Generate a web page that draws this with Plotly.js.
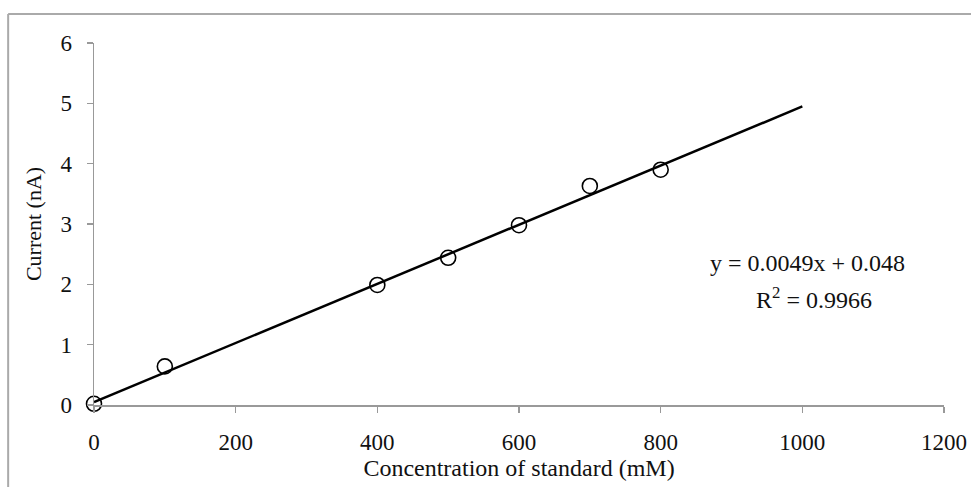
<!DOCTYPE html>
<html>
<head>
<meta charset="utf-8">
<script src="https://cdn.plot.ly/plotly-3.0.1.min.js"></script>
<style>html,body{margin:0;padding:0;background:#fff;}#chart{width:971px;height:487px;}</style>
</head>
<body>
<div id="chart"></div>
<script>
// Data
var concentration = [0, 100, 400, 500, 600, 700, 800];
var current = [0.02, 0.64, 1.99, 2.44, 2.98, 3.63, 3.90];
// Linear trendline endpoints (y = 0.0049x + 0.048)
var trendX = [0, 1000];
var trendY = [0.048, 4.948];
var xTicks = [0, 200, 400, 600, 800, 1000, 1200];
var yTicks = [0, 1, 2, 3, 4, 5, 6];
var equationText = "y = 0.0049x + 0.048";
var r2Text = "R<sup>2</sup> = 0.9966";

var font = "Liberation Serif, Times New Roman, serif";

var traces = [
  {
    x: trendX, y: trendY, mode: "lines", type: "scatter",
    line: {color: "#000", width: 2.5}, hoverinfo: "skip", showlegend: false
  },
  {
    x: concentration, y: current, mode: "markers", type: "scatter",
    marker: {symbol: "circle-open", size: 15, color: "#000", line: {width: 1.6, color: "#000"}},
    showlegend: false, cliponaxis: false
  }
];

var layout = {
  width: 971, height: 487,
  margin: {l: 94, r: 27, t: 43, b: 82},
  paper_bgcolor: "#fff", plot_bgcolor: "#fff",
  font: {family: font, size: 23, color: "#111"},
  showlegend: false,
  xaxis: {
    range: [0, 1200], tickvals: xTicks, ticktext: xTicks.map(String),
    showgrid: false, zeroline: false, showline: true, linecolor: "#999", linewidth: 1.5,
    ticks: "outside", ticklen: 6, tickcolor: "#999", tickwidth: 1.5,
    ticklabelstandoff: 10,
    tickfont: {family: font, size: 23, color: "#111"},
    title: {text: "Concentration of standard (mM)", font: {family: font, size: 24, color: "#111"}, standoff: 0}
  },
  yaxis: {
    range: [0, 6], tickvals: yTicks, ticktext: yTicks.map(String),
    showgrid: false, zeroline: false, showline: true, linecolor: "#999", linewidth: 1.5,
    ticks: "outside", ticklen: 6, tickcolor: "#999", tickwidth: 1.5,
    ticklabelstandoff: 10,
    tickfont: {family: font, size: 23, color: "#111"},
    title: {text: "Current (nA)", font: {family: font, size: 22, color: "#111"}, standoff: 12}
  },
  annotations: [
    {xref: "x", yref: "y", x: 1007, y: 2.36, text: equationText, showarrow: false,
     font: {family: font, size: 24, color: "#111"}, xanchor: "center", yanchor: "middle"},
    {xref: "x", yref: "y", x: 1017, y: 1.77, text: r2Text, showarrow: false,
     font: {family: font, size: 24, color: "#111"}, xanchor: "center", yanchor: "middle"}
  ],
  shapes: [
    {type: "line", xref: "paper", yref: "paper", x0: -0.101, x1: 1.1, y0: 1.08, y1: 1.08,
     line: {color: "#aaa", width: 2}},
    {type: "line", xref: "paper", yref: "paper", x0: -0.101, x1: -0.101, y0: 1.08, y1: -0.25,
     line: {color: "#aaa", width: 2}}
  ]
};

Plotly.newPlot("chart", traces, layout, {displayModeBar: false, staticPlot: true});
</script>
</body>
</html>
